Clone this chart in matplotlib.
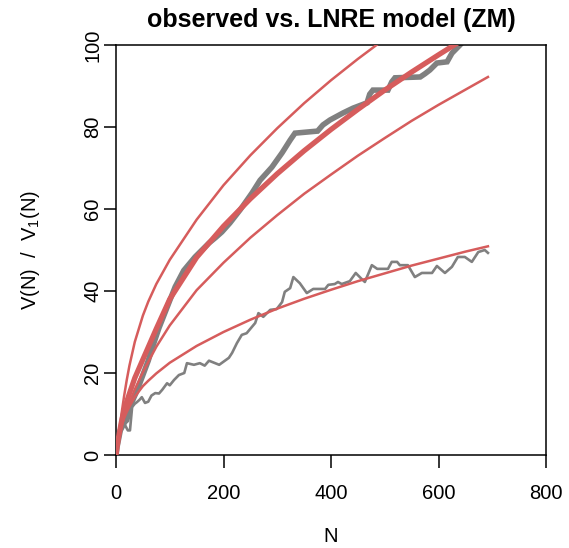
import matplotlib
matplotlib.use("Agg")
import matplotlib.pyplot as plt

plt.rcParams['font.family'] = ['Liberation Sans', 'DejaVu Sans']
plt.rcParams['mathtext.fontset'] = 'custom'
plt.rcParams['mathtext.rm'] = 'Liberation Sans'
plt.rcParams['mathtext.it'] = 'Liberation Sans'

# observed vocabulary growth V(N)
obs_V_N = [0, 2, 5, 8, 12, 16, 20, 25, 30, 40, 50, 60, 67, 80, 95, 110, 126, 147, 160, 173,
           185, 197, 212, 231, 253, 268, 290, 309, 324, 333, 375, 385, 398, 422, 441, 467,
           472, 478, 506, 513, 519, 566, 575, 584, 597, 616, 625, 640, 660, 692]
obs_V = [0, 2, 4, 6, 7, 8, 8.5, 11, 13, 16, 19.5, 23, 26, 31, 36, 41, 45, 48.3, 50, 51.7,
         53, 54.4, 56.6, 59.8, 63.9, 67, 70.2, 73.7, 76.8, 78.5, 79, 80.5, 81.7, 83.4, 84.6, 85.9,
         88, 89, 89, 91, 92, 92.2, 93, 93.9, 95.6, 95.9, 98, 100, 103, 107]

# observed hapax growth V1(N)
obs_V1_N = [0, 3, 6, 10, 14, 18, 22, 26, 30, 35, 39, 44, 48, 54, 60, 66, 73, 80, 86, 95,
            100, 108, 117, 127, 132, 145, 156, 165, 173, 192, 210, 216, 225, 234, 243, 259,
            265, 274, 287, 299, 309, 314, 324, 330, 342, 355, 367, 389, 395, 407, 413, 420,
            435, 446, 455, 463, 476, 486, 506, 513, 523, 528, 543, 556, 569, 588, 597, 612,
            625, 636, 649, 662, 674, 686, 692]
obs_V1 = [0, 3, 5, 7, 8, 7, 6, 6, 11.7, 12.5, 12.9, 13.5, 14.1, 12.7, 13, 14.5, 15.1, 15,
          15.9, 17.5, 17, 18.3, 19.5, 20, 22.4, 22, 22.4, 21.8, 23, 22, 23.7, 24.9, 27.3, 29.3,
          29.7, 32.2, 34.6, 33.7, 35.4, 35.6, 37.3, 39.8, 40.7, 43.4, 41.9, 39.5, 40.5, 40.5,
          41.5, 41.7, 42.2, 41.7, 42.4, 44.4, 43.2, 42.2, 46.3, 45.4, 45.4, 47.1, 47.1, 46.3,
          46.3, 43.4, 44.4, 44.4, 46.1, 44.4, 45.9, 48.3, 48.3, 47.1, 49.5, 50, 49.3]

# model curves (read at these sample sizes)
model_N = [0, 2, 5, 10, 15, 20, 25, 35, 50, 60, 75, 100, 150, 200, 250, 300, 350, 400, 450,
           500, 550, 600, 650, 692]
model_EV = [0, 2, 4.5, 8, 10.8, 13, 15, 18.8, 23.3, 26.3, 30.8, 38, 48.2, 55.8, 62.5, 68.6,
            74.2, 79.4, 84.3, 89.0, 93.4, 97.6, 101.7, 105.0]
model_V_upper = [0, 2, 5, 9.8, 14.3, 18.3, 21.8, 27.6, 34, 37.4, 41.7, 47.6, 57.4, 65.8,
                 73.1, 79.7, 85.8, 91.4, 96.6, 101.5, 106.2, 110.7, 115.0, 118.4]
model_V_lower = [0, 2, 4, 7, 9.1, 11, 12.7, 16, 20.2, 22.7, 26.4, 31.6, 40.2, 46.9, 53.0,
                 58.5, 63.7, 68.4, 73.0, 77.3, 81.5, 85.4, 89.1, 92.2]
model_EV1 = [0, 2, 4.5, 7, 9, 10.5, 11.8, 14.2, 16.8, 18.1, 19.9, 22.5, 26.6, 30.0, 33.0,
             35.7, 38.1, 40.3, 42.4, 44.3, 46.2, 47.9, 49.6, 50.9]

x_ticks = [0, 200, 400, 600, 800]
y_ticks = [0, 20, 40, 60, 80, 100]

gray = '#808080'
red = '#D65C5C'

fig = plt.figure(figsize=(5.69, 5.48), dpi=100)
ax = fig.add_axes([116/569, 1-455/548, 430/569, 410/548])

ax.plot(obs_V_N, obs_V, color=gray, lw=4.0, solid_joinstyle='miter', zorder=2)
ax.plot(obs_V1_N, obs_V1, color=gray, lw=1.9, zorder=2)
ax.plot(model_N, model_V_upper, color=red, lw=1.8, zorder=3)
ax.plot(model_N, model_V_lower, color=red, lw=1.8, zorder=3)
ax.plot(model_N, model_EV, color=red, lw=3.8, zorder=3)
ax.plot(model_N, model_EV1, color=red, lw=1.8, zorder=3)

ax.set_xlim(0, 800)
ax.set_ylim(0, 100)
ax.set_xticks(x_ticks)
ax.set_yticks(y_ticks)
ax.set_xticklabels([str(v) for v in x_ticks])
ax.set_yticklabels([str(v) for v in y_ticks], rotation=90, va='center')
ax.tick_params(axis='both', direction='out', length=9, width=1.1, labelsize=14.5, color='black')
ax.tick_params(axis='x', pad=12)
ax.tick_params(axis='y', pad=1)
for s in ax.spines.values():
    s.set_linewidth(1.1)

fig.text(331/569, 1-20/548, 'observed vs. LNRE model (ZM)', ha='center', va='center',
         fontsize=18, fontweight='bold')
fig.text(331/569, 1-537/548, 'N', ha='center', va='center', fontsize=14.5)
fig.text(30/569, 1-250/548, r'V(N)  /  V$_1$(N)', ha='center', va='center', rotation=90,
         fontsize=14.5)

fig.savefig('out.png', dpi=100)
